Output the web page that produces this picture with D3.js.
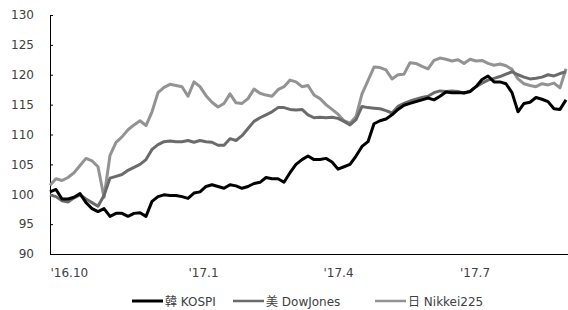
<!DOCTYPE html>
<html>
<head>
<meta charset="utf-8">
<script src="https://cdn.jsdelivr.net/npm/d3@7"></script>
<style>
  body { margin: 0; background: #fff; }
  .axis text { font-family: "DejaVu Sans", sans-serif; font-size: 12px; fill: #404040; }
  .legend text { font-family: "DejaVu Sans", "Noto Sans CJK KR", sans-serif; font-size: 12px; fill: #404040; }
</style>
</head>
<body>
<div class="chart"></div>
<script>
// index values, one reading every 4 days from 2016-10-01
var kospi = [100.4,100.8,99.2,99.2,99.5,100.1,98.6,97.6,97.1,97.6,96.3,96.8,96.8,96.3,96.8,96.9,96.3,98.8,99.6,99.9,
  99.8,99.8,99.6,99.3,100.2,100.4,101.3,101.6,101.3,101.0,101.6,101.4,101.0,101.3,101.8,102.0,102.8,102.6,102.6,102.0,
  103.6,105.0,105.8,106.4,105.8,105.8,106.0,105.4,104.2,104.6,105.0,106.4,108.0,108.8,111.8,112.3,112.6,113.3,114.2,114.9,
  115.2,115.5,115.8,116.1,115.8,116.4,117.1,117.0,117.0,117.0,117.2,118.0,119.2,119.8,118.8,118.8,118.5,117.0,113.8,115.2,
  115.4,116.2,115.9,115.5,114.3,114.2,115.8];

var dow = [99.9,99.6,98.9,98.7,99.4,99.9,99.2,98.6,98.0,99.8,102.7,103.0,103.3,104.0,104.5,105.0,105.8,107.5,108.3,108.8,
  108.9,108.8,108.8,109.0,108.7,109.0,108.8,108.7,108.2,108.2,109.3,109.0,109.8,111.0,112.2,112.8,113.3,113.8,114.5,114.5,
  114.2,114.1,114.2,113.3,112.8,112.9,112.8,112.9,112.7,112.2,111.6,112.5,114.7,114.5,114.4,114.3,114.0,113.6,114.7,115.2,
  115.6,115.9,116.2,116.4,117.0,117.3,117.2,117.3,117.2,116.9,117.2,118.0,118.6,119.1,119.4,119.7,120.1,120.5,120.0,119.6,
  119.3,119.4,119.6,120.0,119.8,120.2,120.5];

var nikkei = [101.5,102.6,102.3,102.8,103.6,104.8,106.0,105.6,104.6,99.5,106.5,108.7,109.6,110.8,111.6,112.3,111.5,113.8,117.0,117.9,
  118.4,118.2,118.0,116.4,118.8,118.0,116.5,115.4,114.6,115.2,116.8,115.3,115.2,116.0,117.6,116.9,116.6,116.4,117.5,118.0,
  119.1,118.8,118.0,118.2,116.6,116.0,115.0,114.2,113.4,112.3,111.9,113.0,116.8,119.0,121.3,121.2,120.8,119.3,120.0,120.1,
  122.0,121.9,121.4,121.0,122.4,122.8,122.6,122.3,122.5,121.9,122.6,122.3,122.4,121.9,121.6,121.8,121.5,120.9,119.3,118.5,
  118.2,118.0,118.5,118.3,118.6,117.8,121.0];

var seriesNames = ["韓 KOSPI", "美 DowJones", "日 Nikkei225"];
var seriesColors = ["#000000", "#6b6b6b", "#939393"];
var yTicks = [90, 95, 100, 105, 110, 115, 120, 125, 130];
var xTickDates = ["2016-10-01", "2017-01-01", "2017-04-01", "2017-07-01"];
var xTickLabels = ["'16.10", "'17.1", "'17.4", "'17.7"];

var start = new Date(2016, 9, 1);
var dates = kospi.map(function(d, i) { return d3.timeDay.offset(start, i * 4); });

var width = 568, height = 310;
var margin = {top: 15, right: 0, bottom: 56, left: 50};

var svg = d3.select(".chart").append("svg")
    .attr("width", width)
    .attr("height", height);

var x = d3.scaleTime()
    .domain([dates[0], dates[dates.length - 1]])
    .range([margin.left, 566]);

var y = d3.scaleLinear()
    .domain([90, 130])
    .range([height - margin.bottom, margin.top]);

// y axis, ticks pointing inward
var yAxis = svg.append("g")
    .attr("class", "axis")
    .attr("transform", "translate(" + margin.left + ",0)")
    .call(d3.axisLeft(y).tickValues(yTicks).tickSize(-3).tickPadding(16).tickSizeOuter(0));
yAxis.select(".domain").attr("stroke", "#000");
yAxis.selectAll(".tick line").attr("stroke", "#000");

var parse = d3.timeParse("%Y-%m-%d");
var xAxis = svg.append("g")
    .attr("class", "axis")
    .attr("transform", "translate(0," + y(90) + ")")
    .call(d3.axisBottom(x)
      .tickValues(xTickDates.map(parse))
      .tickFormat(function(d, i) { return xTickLabels[i]; })
      .tickSize(0).tickPadding(14));
xAxis.select(".domain").attr("d", "M" + margin.left + ",0.5H" + width).attr("stroke", "#000");
xAxis.selectAll(".tick text").style("text-anchor", "start");

var line = d3.line()
    .x(function(d, i) { return x(dates[i]); })
    .y(function(d) { return y(d); });

var allSeries = [nikkei, dow, kospi];
var order = [2, 1, 0];
for (var i = 0; i < allSeries.length; i++) {
  svg.append("path")
      .datum(allSeries[i])
      .attr("fill", "none")
      .attr("stroke", seriesColors[order[i]])
      .attr("stroke-width", 3)
      .attr("stroke-linejoin", "round")
      .attr("d", line);
}

// legend
var legendX = [132, 233, 375];
var legend = svg.append("g").attr("class", "legend");
for (var j = 0; j < seriesNames.length; j++) {
  legend.append("line")
      .attr("x1", legendX[j]).attr("x2", legendX[j] + 31)
      .attr("y1", 301).attr("y2", 301)
      .attr("stroke", seriesColors[j])
      .attr("stroke-width", j == 0 ? 3 : 2.5);
  legend.append("text")
      .attr("x", legendX[j] + 33)
      .attr("y", 306)
      .text(seriesNames[j]);
}
</script>
</body>
</html>
